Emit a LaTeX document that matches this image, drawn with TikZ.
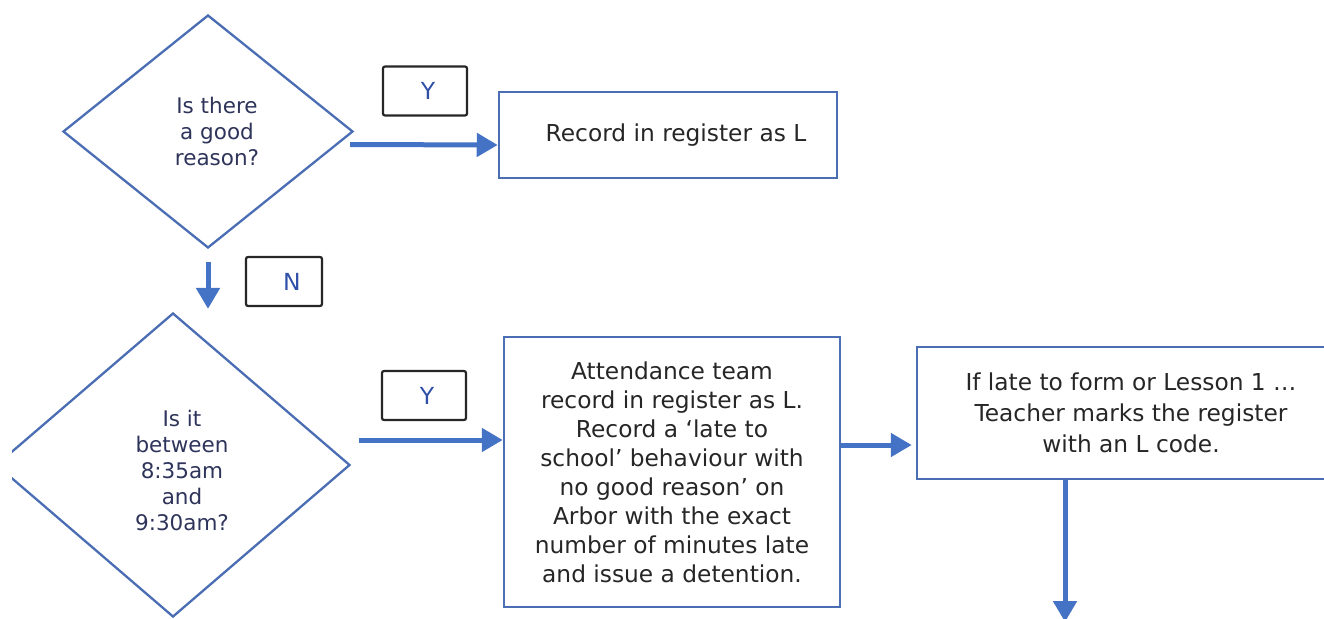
\documentclass[tikz,border=0pt]{standalone}
\usepackage{fontspec}
\setmainfont{DejaVu Sans}
\usetikzlibrary{shapes.geometric,arrows.meta,calc}
\definecolor{lineblue}{HTML}{4A6DB3}
\definecolor{arrblue}{HTML}{4472C4}
\definecolor{dtext}{HTML}{2E345A}
\definecolor{btext}{HTML}{262626}
\definecolor{ytext}{HTML}{3050A8}
\tikzset{
  decision/.style={diamond, draw=lineblue, line width=2.3pt, inner sep=0pt},
  dlabel/.style={align=center, text=dtext, font=\fontsize{21.5}{26}\selectfont},
  procbox/.style={rectangle, draw=lineblue, line width=2.5pt, inner sep=0pt, align=center,
    text=btext, font=\fontsize{23.3}{29}\selectfont},
  answer/.style={rectangle, draw=black!85, line width=2.2pt, rounded corners=2pt, inner sep=0pt,
    text=ytext, font=\fontsize{23.5}{26}\selectfont},
  arr/.style={draw=arrblue, line width=5pt, -{Triangle[length=21pt,width=23pt]}},
}
\begin{document}
\begin{tikzpicture}[x=1pt,y=-1pt]
\useasboundingbox (0,0) rectangle (1324,618);
\clip (0,0) rectangle (1324,618);
% decision 1
\node[decision, minimum width=290pt, minimum height=233pt,
  label={[dlabel,xshift=9pt]center:{Is there\\a good\\reason?}}] (d1) at (208,131.5) {};
% decision 2 (cut at the left)
\begin{scope}
\clip (12,0) rectangle (1324,618);
\node[decision, minimum width=354pt, minimum height=304pt,
  label={[dlabel,xshift=9pt,yshift=-5pt]center:{Is it\\between\\8:35am\\and\\9:30am?}}] (d2) at (173,465) {};
\end{scope}
% boxes
\node[procbox, minimum width=338pt, minimum height=86pt] (rec1) at (668,135) {\hspace*{16pt}Record in register as L};
\node[procbox, minimum width=336pt, minimum height=270pt] (att) at (672,472)
  {Attendance team\\record in register as L.\\Record a ‘late to\\school’ behaviour with\\no good reason’ on\\Arbor with the exact\\number of minutes late\\and issue a detention.};
\node[procbox, minimum width=428pt, minimum height=132pt, font=\fontsize{23.3}{31}\selectfont] (tch) at (1131,413)
  {If late to form or Lesson 1 …\\Teacher marks the register\\with an L code.};
% answer labels
\node[answer, minimum width=84pt, minimum height=49pt] (y1) at (425,91) {\hspace*{6pt}Y};
\node[answer, minimum width=76pt, minimum height=49pt] (n1) at (284,281.5) {\hspace*{16pt}N};
\node[answer, minimum width=84pt, minimum height=49pt] (y2) at (424,395.5) {\hspace*{6pt}Y};
% connectors
\draw[arr] ([xshift=-4pt,yshift=-13pt]d1.east) -- ([yshift=-10pt]rec1.west);
\draw[arr] ([yshift=-13pt]d1.south) -- ([yshift=3pt]d1.south |- d2.north);
\draw[arr] ([xshift=8pt,yshift=25pt]d2.east) -- ([yshift=32pt]att.west);
\coordinate (a3) at ([yshift=27pt]att.east);
\draw[arr] (a3) -- ([xshift=-4pt]a3 -| tch.west);
\coordinate (down) at ([xshift=-66pt]tch.south |- 0,622);
\draw[arr] ([xshift=-66pt]tch.south) -- (down);
\end{tikzpicture}
\end{document}
